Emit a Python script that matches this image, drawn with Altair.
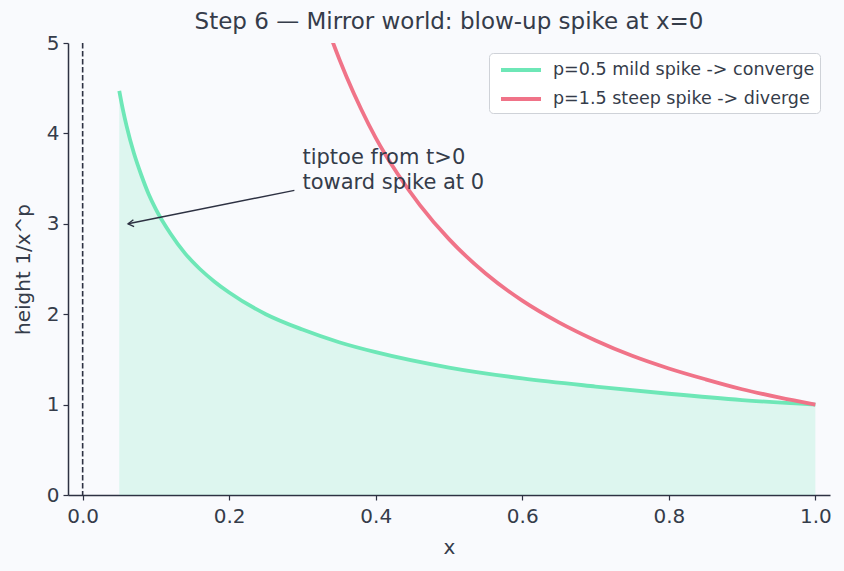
import altair as alt
import pandas as pd

# values
green_x = [0.05, 0.055, 0.06, 0.07, 0.08, 0.09, 0.10, 0.12, 0.14, 0.16, 0.18, 0.20, 0.25, 0.30, 0.35, 0.40, 0.50, 0.60, 0.70, 0.80, 0.90, 1.00]
green_y = [4.47, 4.26, 4.08, 3.78, 3.54, 3.33, 3.16, 2.89, 2.67, 2.50, 2.36, 2.24, 2.00, 1.83, 1.69, 1.58, 1.41, 1.29, 1.20, 1.12, 1.05, 1.00]
red_x = [0.30, 0.32, 0.34, 0.36, 0.38, 0.40, 0.43, 0.46, 0.50, 0.55, 0.60, 0.65, 0.70, 0.75, 0.80, 0.85, 0.90, 0.95, 1.00]
red_y = [6.09, 5.52, 5.04, 4.63, 4.27, 3.95, 3.55, 3.21, 2.83, 2.45, 2.15, 1.91, 1.71, 1.54, 1.40, 1.28, 1.17, 1.08, 1.00]
series = ["p=0.5 mild spike -> converge", "p=1.5 steep spike -> diverge"]
colors = ["#6ee7b7", "#f07388"]
note_lines = ["tiptoe from t>0", "toward spike at 0"]
note_x = [0.30, 0.30]
note_y = [3.66, 3.39]
arrow_from = (0.289, 3.37)
arrow_to = (0.062, 3.0)
x_ticks = [0.0, 0.2, 0.4, 0.6, 0.8, 1.0]
y_ticks = [0, 1, 2, 3, 4, 5]

TXT = "#353c4a"
AX = "#2d3142"
FONT = "DejaVu Sans"

green = pd.DataFrame({"x": green_x, "y": green_y, "s": series[0]})
red = pd.DataFrame({"x": red_x, "y": red_y, "s": series[1]})
lines = pd.concat([green, red])

xs = alt.Scale(domain=[-0.02, 1.02], nice=False, zero=False)
ys = alt.Scale(domain=[0, 5], nice=False)
xax = alt.Axis(values=x_ticks, format=".1f", title="x", grid=False)
yax = alt.Axis(values=y_ticks, format="d", title="height 1/x^p", grid=False)

area = alt.Chart(green).mark_area(color=colors[0], opacity=0.2, interpolate="monotone").encode(
    x=alt.X("x:Q", scale=xs, axis=xax), y=alt.Y("y:Q", scale=ys, axis=yax), y2=alt.datum(0)
)

vline = alt.Chart(pd.DataFrame({"x": [0.0]})).mark_rule(color=AX, strokeWidth=1.6, strokeDash=[5.5, 2.5]).encode(
    x=alt.X("x:Q", scale=xs)
)

curves = alt.Chart(lines).mark_line(strokeWidth=3.8, clip=True, interpolate="monotone").encode(
    x=alt.X("x:Q", scale=xs),
    y=alt.Y("y:Q", scale=ys),
    color=alt.Color("s:N", scale=alt.Scale(domain=series, range=colors),
                    legend=alt.Legend(title=None, orient="top-right", offset=10,
                                      symbolType="M -2 0 L 2 0", symbolSize=400, symbolOffset=15,
                                      symbolStrokeWidth=4, labelFontSize=17.5, labelOffset=20,
                                      labelFont=FONT, labelColor=TXT, padding=5,
                                      strokeColor="#cfd2d8", fillColor="#ffffff", cornerRadius=4,
                                      rowPadding=8, labelLimit=400)),
    detail="s:N",
)

arrow_df = pd.DataFrame({"x": [arrow_from[0]], "y": [arrow_from[1]], "x2": [arrow_to[0]], "y2": [arrow_to[1]]})
arrow = alt.Chart(arrow_df).mark_rule(color=AX, strokeWidth=1.4).encode(
    x=alt.X("x:Q", scale=xs), y=alt.Y("y:Q", scale=ys), x2="x2:Q", y2="y2:Q"
)
head = alt.Chart(arrow_df).mark_point(shape="M -1 -0.6 L 0 0 L -1 0.6", filled=False, size=130,
                                      strokeWidth=1.4, color=AX, angle=174, opacity=1).encode(
    x=alt.X("x2:Q", scale=xs), y=alt.Y("y2:Q", scale=ys)
)

note = alt.Chart(pd.DataFrame({"x": note_x, "y": note_y, "t": note_lines})).mark_text(
    align="left", baseline="alphabetic", fontSize=21, font=FONT, color=TXT
).encode(x=alt.X("x:Q", scale=xs), y=alt.Y("y:Q", scale=ys), text="t:N")

chart = alt.layer(area, vline, curves, arrow, head, note).properties(
    width=762, height=452,
    title=alt.TitleParams("Step 6 — Mirror world: blow-up spike at x=0", fontSize=23, font=FONT,
                          fontWeight="normal", color=TXT, offset=-1),
    autosize=alt.AutoSizeParams(type="none"),
    padding={"left": 68, "top": 43, "right": 14, "bottom": 76},
    background="#f9fafd",
).configure_view(stroke=None).configure_axis(
    labelFont=FONT, titleFont=FONT, labelFontSize=20, titleFontSize=20, labelColor=TXT, titleColor=TXT,
    titleFontWeight="normal", domainColor=AX, domainWidth=1.5, tickColor=AX, tickWidth=1.2, tickSize=5,
    labelPadding=4
).configure_axisX(labelPadding=6, titlePadding=11).configure_axisY(titlePadding=13)

chart.save("out.html", embed_options={"renderer": "svg", "actions": False})
